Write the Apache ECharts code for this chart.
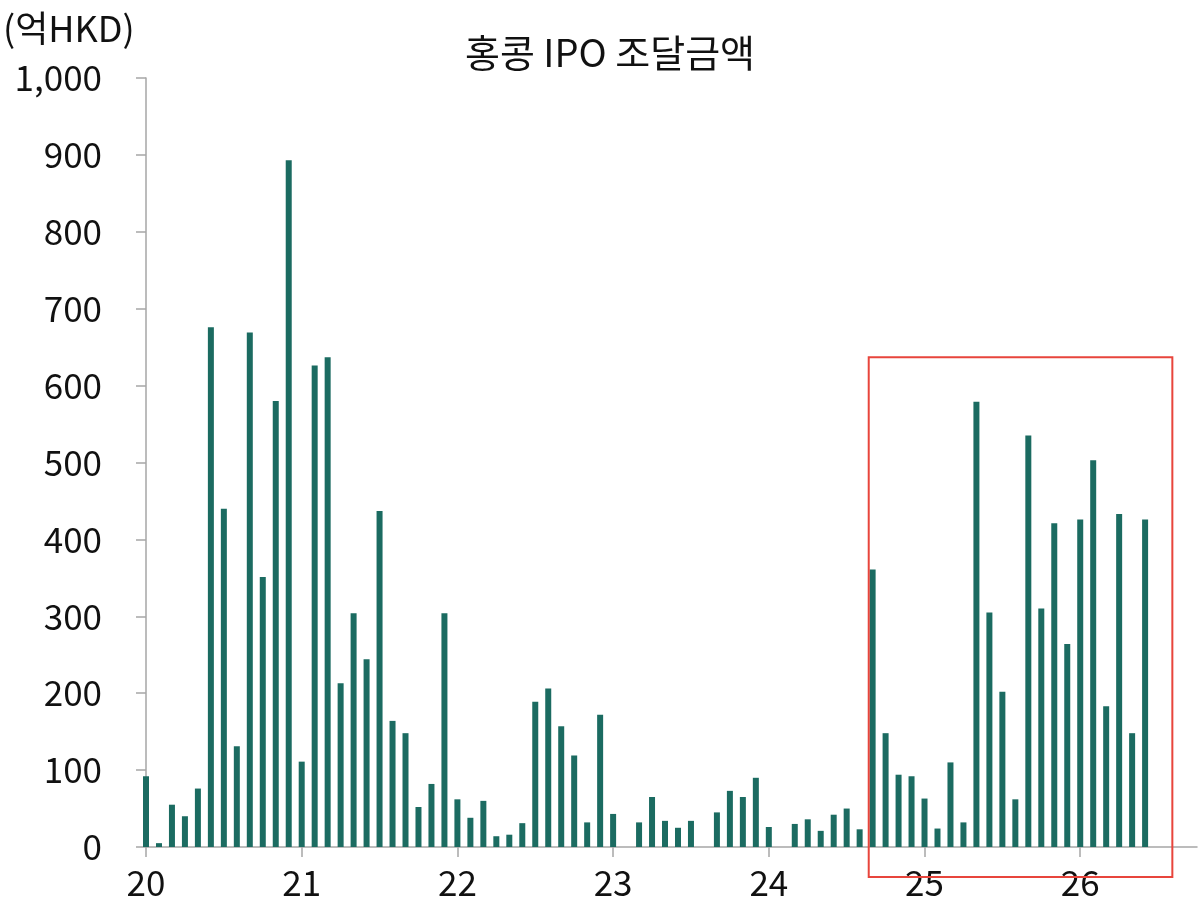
<!DOCTYPE html>
<html>
<head>
<meta charset="utf-8">
<script src="https://cdn.jsdelivr.net/npm/echarts@6/dist/echarts.min.js"></script>
<style>
  html, body { margin: 0; padding: 0; background: #fff; }
  #chart { width: 1198px; height: 923px; }
</style>
</head>
<body>
<div id="chart"></div>
<script>
// 월별 홍콩 IPO 조달금액 (억HKD)
var years = ['20', '21', '22', '23', '24', '25', '26'];
var v2020 = [92, 5, 55, 40, 76, 676, 440, 131, 669, 351, 580, 893];
var v2021 = [111, 626, 637, 213, 304, 244, 437, 164, 148, 52, 82, 304];
var v2022 = [62, 38, 60, 14, 16, 31, 189, 206, 157, 119, 32, 172];
var v2023 = [43, 0, 32, 65, 34, 25, 34, 0, 45, 73, 65, 90];
var v2024 = [26, 0, 30, 36, 21, 42, 50, 23, 361, 148, 94, 92];
var v2025 = [63, 24, 110, 32, 579, 305, 202, 62, 535, 310, 421, 264];
var v2026 = [426, 503, 183, 433, 148, 426];
var yTicks = [0, 100, 200, 300, 400, 500, 600, 700, 800, 900, 1000];
var emptyTail = 4; // 축을 오른쪽 끝까지 늘리는 빈 칸

// 빨간 박스 (데이터 좌표: 월 인덱스, 값)
var boxX = [55.7, 79.1];
var boxY = [637, -39];

var allYears = [v2020, v2021, v2022, v2023, v2024, v2025, v2026];
var months = [];
var values = [];
allYears.forEach(function (arr, yi) {
  arr.forEach(function (v, mi) {
    months.push(years[yi] + '.' + (mi + 1));
    values.push(v === 0 ? null : v);
  });
});
for (var i = 0; i < emptyTail; i++) {
  months.push('');
  values.push(null);
}

var font = '"Noto Sans CJK KR", "Noto Sans", sans-serif';
var chart = echarts.init(document.getElementById('chart'));

var option = {
  backgroundColor: '#fff',
  animation: false,
  title: {
    text: '홍콩 IPO 조달금액',
    left: 605,
    top: 29,
    textAlign: 'center',
    textStyle: { fontFamily: font, fontSize: 38, fontWeight: 'normal', color: '#111' }
  },
  graphic: [{
    type: 'text',
    left: 3,
    top: 10,
    style: { text: '(억HKD)', fontFamily: font, fontSize: 36, fill: '#111' }
  }],
  grid: { left: 146, right: 1, top: 78, bottom: 76, containLabel: false },
  xAxis: {
    type: 'category',
    data: months,
    boundaryGap: false,
    axisLine: { lineStyle: { color: '#a6a6a6', width: 1.5 } },
    axisTick: {
      length: 10,
      interval: function (idx) { return idx % 12 === 0; },
      lineStyle: { color: '#a6a6a6', width: 1.5 }
    },
    axisLabel: {
      interval: function (idx) { return idx % 12 === 0 && idx / 12 < years.length; },
      formatter: function (val, idx) { return years[idx / 12]; },
      fontFamily: font,
      fontSize: 35,
      color: '#111',
      margin: 18
    },
    splitLine: { show: false }
  },
  yAxis: {
    type: 'value',
    min: yTicks[0],
    max: yTicks[yTicks.length - 1],
    interval: 100,
    axisLine: { show: true, lineStyle: { color: '#a6a6a6', width: 1.5 } },
    axisTick: { show: true, length: 10, lineStyle: { color: '#a6a6a6', width: 1.5 } },
    axisLabel: {
      fontFamily: font,
      fontSize: 35,
      color: '#111',
      margin: 44,
      formatter: function (v) { return v.toLocaleString('en-US'); }
    },
    splitLine: { show: false }
  },
  series: [{
    type: 'bar',
    data: values,
    barWidth: 6,
    clip: false,
    itemStyle: { color: '#1b6b61' }
  }]
};
chart.setOption(option);

// 박스 위치를 축 스케일로 변환
function xAt(idx) {
  var i0 = Math.floor(idx);
  var p0 = chart.convertToPixel({ xAxisIndex: 0 }, i0);
  var p1 = chart.convertToPixel({ xAxisIndex: 0 }, i0 + 1);
  return p0 + (p1 - p0) * (idx - i0);
}
var bx0 = xAt(boxX[0]), bx1 = xAt(boxX[1]);
var by0 = chart.convertToPixel({ yAxisIndex: 0 }, boxY[0]);
var by1 = chart.convertToPixel({ yAxisIndex: 0 }, boxY[1]);
chart.setOption({
  graphic: [option.graphic[0], {
    type: 'rect',
    shape: { x: bx0, y: by0, width: bx1 - bx0, height: by1 - by0 },
    style: { fill: 'none', stroke: '#e8453c', lineWidth: 2 },
    z: 10
  }]
});
</script>
</body>
</html>
